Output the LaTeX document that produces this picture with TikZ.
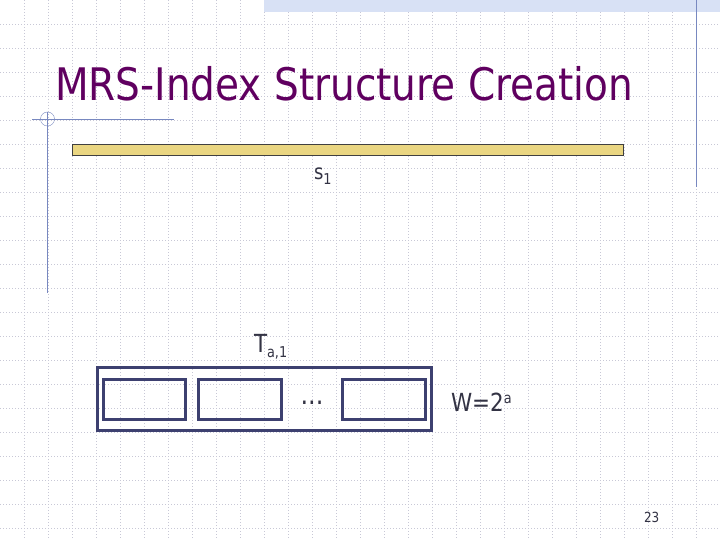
\documentclass[tikz,border=0pt]{standalone}
\usepackage{fontspec}
\setmainfont{DejaVu Sans}
\usepackage{graphicx}
\usetikzlibrary{positioning}

\definecolor{slidetitle}{RGB}{96,0,96}
\definecolor{slidetext}{RGB}{51,51,68}
\definecolor{gridline}{RGB}{200,200,214}
\definecolor{accent}{RGB}{120,136,192}
\definecolor{barfill}{RGB}{234,214,130}
\definecolor{boxline}{RGB}{61,64,112}
\definecolor{bandfill}{RGB}{216,225,245}

\newcommand{\narrow}[1]{\scalebox{0.86}[1]{#1}}
\newcommand{\lowtext}[2]{\raisebox{#1}{\fontsize{15}{18}\selectfont #2}}

\begin{document}
\begin{tikzpicture}[x=1bp,y=-1bp]
	\useasboundingbox (0,0) rectangle (720,540);
	\fill[white] (0,0) rectangle (720,540);
	% grid
	\foreach \g in {24,48,...,696}
		\draw[gridline, dash pattern=on 1bp off 2bp] (\g,0) -- (\g,540);
	\foreach \g in {24,48,...,528}
		\draw[gridline, dash pattern=on 1bp off 2bp] (0,\g) -- (720,\g);
	% band and rules
	\fill[bandfill] (264,0) rectangle (720,12.5);
	\draw[accent] (696.5,0) -- (696.5,187);
	\draw[accent] (32,119) -- (174,119);
	\draw[accent, line width=1.2bp] (47.5,112) -- (47.5,293);
	\draw[accent] (47.5,119) circle (7);

	\begin{scope}[every node/.style={inner sep=0pt, outer sep=0pt, text=slidetext}]
		\node[anchor=base west, text=slidetitle, font=\fontsize{45}{54}\selectfont] (title) at (55,101) {\scalebox{0.87}[1]{MRS-Index Structure Creation}};
		\node[draw={rgb,255:red,64;green,64;blue,64}, line width=1.2bp, fill=barfill, minimum width=551bp, minimum height=11bp] (seq) at (348,150) {};
		\node[anchor=base west, font=\fontsize{21}{24}\selectfont] (s1) at (314,179.5) {\narrow{s\lowtext{-5bp}{1}}};
		\node[anchor=base west, font=\fontsize{25}{30}\selectfont] (tlabel) at (254,352) {\narrow{T\lowtext{-5bp}{a,1}}};
		\node[anchor=base west, font=\fontsize{25}{30}\selectfont] (wlabel) at (451,411) {\narrow{W=2\lowtext{8bp}{a}}};
		\node[anchor=base west, font=\fontsize{14}{17}\selectfont] (page) at (644,522) {\narrow{23}};
	\end{scope}

	\begin{scope}[every node/.style={draw=boxline, line width=3bp, inner sep=0pt, outer sep=0pt}]
		\node[minimum width=333.7bp, minimum height=63.3bp] (table) at (264.3,399.2) {};
		\node[minimum width=82.6bp, minimum height=39.4bp] (cell1) at (144.5,399.5) {};
		\node[minimum width=82.6bp, minimum height=39.4bp, right=13bp of cell1] (cell2) {};
		\node[minimum width=82.6bp, minimum height=39.4bp, right=61.5bp of cell2] (cell3) {};
	\end{scope}
	\node[anchor=base, inner sep=0pt, text=slidetext, font=\fontsize{28}{32}\selectfont] (dots) at (312,404) {\narrow{...}};
\end{tikzpicture}
\end{document}
